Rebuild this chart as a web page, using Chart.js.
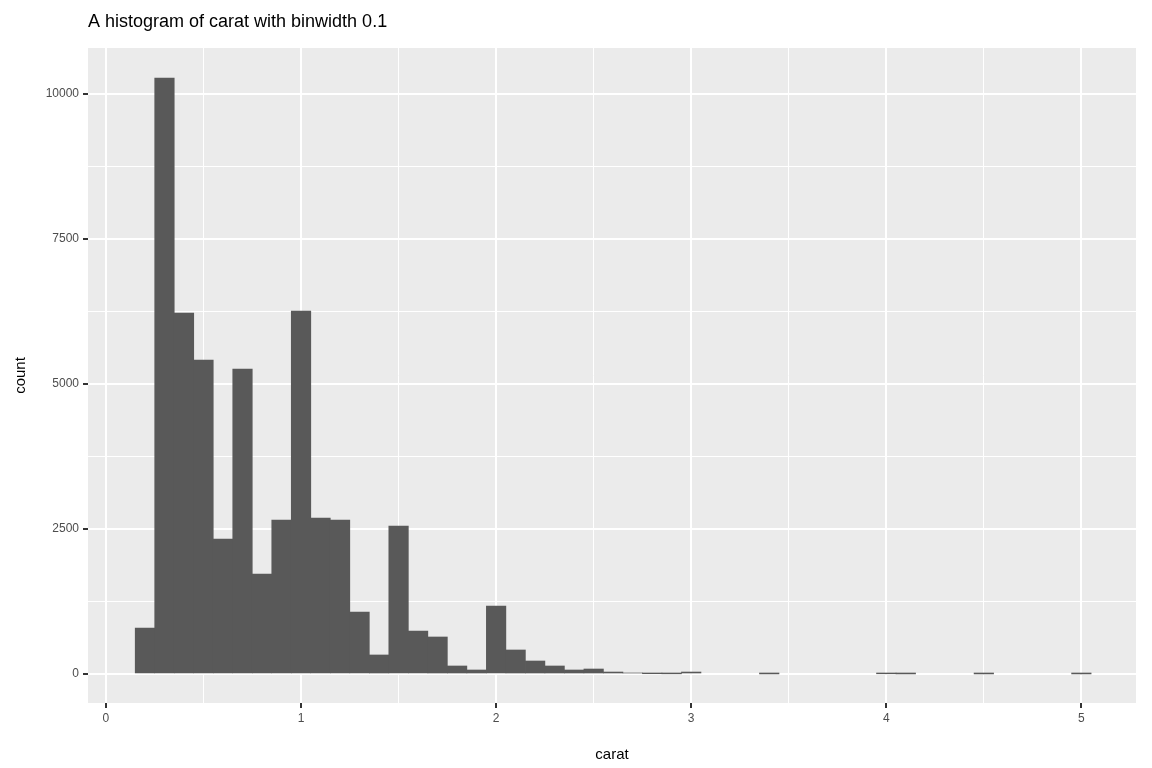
<!DOCTYPE html>
<html><head><meta charset="utf-8">
<script src="https://cdn.jsdelivr.net/npm/chart.js@4"></script>
<style>html,body{margin:0;padding:0;background:#fff}#w{width:1152px;height:768px}</style>
</head><body><div id="w"><canvas id="c"></canvas></div>
<script>
const binCenters = [];
for (let i = 2; i <= 50; i++) binCenters.push(i / 10);
const counts = [793,10276,6224,5414,2328,5259,1724,2655,6259,2690,2655,1069,328,2552,741,638,138,69,1172,414,224,138,69,86,34,17,5,3,34,
 0,0,0,1,0,0,0,0,0,4,1,0,0,0,1,0,0,0,0,1];
const xMajor = [0,1,2,3,4,5];
const xMinor = [0.5,1.5,2.5,3.5,4.5];
const yMajor = [0,2500,5000,7500,10000];
const yMinor = [1250,3750,6250,8750];

const bg = {id:'bg',beforeDraw(c){const {ctx,chartArea:a}=c;ctx.save();ctx.fillStyle='#ebebeb';ctx.fillRect(a.left,a.top,a.right-a.left,a.bottom-a.top);
 ctx.fillStyle='#000';ctx.font='18px "Liberation Sans", Arial, sans-serif';ctx.textBaseline='middle';ctx.fillText('A histogram of carat with binwidth 0.1',88,22);ctx.restore();}};

function mk(major, minor){return function(s){s.ticks=[...major,...minor].sort((a,b)=>a-b).map(v=>({value:v,major:major.includes(v)}));};}
const isMaj=(c)=>c.tick&&c.tick.major;
new Chart(document.getElementById('c'),{
 type:'bar',
 data:{datasets:[{data:binCenters.map((x,i)=>({x,y:counts[i]>0?counts[i]:null})),backgroundColor:'#595959',barPercentage:1,categoryPercentage:1,borderWidth:0}]},
 options:{responsive:true,maintainAspectRatio:false,animation:false,
  layout:{padding:{top:48,right:16,left:0,bottom:0}},
  plugins:{legend:{display:false},tooltip:{enabled:false}},
  scales:{
   x:{type:'linear',offset:false,min:-0.092,max:5.28,afterBuildTicks:mk(xMajor,xMinor),
    afterFit(s){s.height=65;},
    grid:{offset:false,color:'#fff',lineWidth:c=>isMaj(c)?2:1,tickColor:c=>isMaj(c)?'#333':'rgba(0,0,0,0)',tickLength:5,drawTicks:true},
    border:{display:false},
    ticks:{autoSkip:false,maxRotation:0,padding:3,color:'#4d4d4d',font:{size:12,family:'"Liberation Sans", Arial'},callback:(v)=>xMajor.includes(v)?String(v):''},
    title:{display:true,text:'carat',color:'#000',font:{size:15,family:'"Liberation Sans", Arial'},padding:{top:6}}},
   y:{min:-500,max:10793,afterBuildTicks:mk(yMajor,yMinor),
    afterFit(s){s.width=88;},
    grid:{color:'#fff',lineWidth:c=>isMaj(c)?2:1,tickColor:c=>isMaj(c)?'#333':'rgba(0,0,0,0)',tickLength:5,drawTicks:true},
    border:{display:false},
    ticks:{autoSkip:false,padding:4,color:'#4d4d4d',font:{size:12,family:'"Liberation Sans", Arial'},callback:(v)=>yMajor.includes(v)?String(v):''},
    title:{display:true,text:'count',color:'#000',font:{size:15,family:'"Liberation Sans", Arial'},padding:{top:12,bottom:4}}}
  }},
 plugins:[bg]});
</script></body></html>
